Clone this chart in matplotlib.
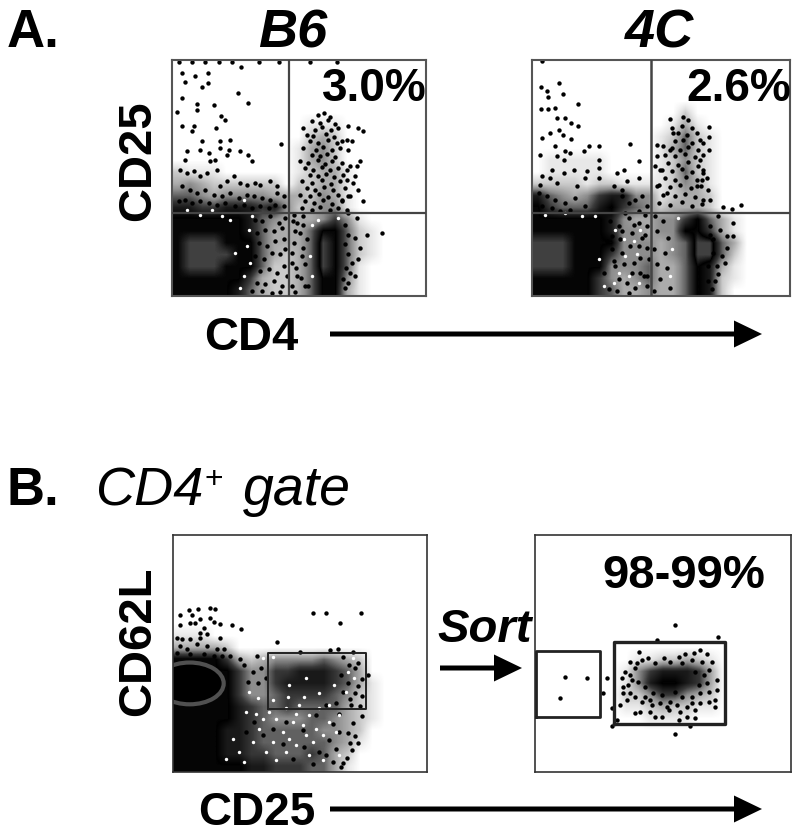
import matplotlib
matplotlib.use('Agg')
import matplotlib.pyplot as plt
import numpy as np
from matplotlib.colors import LinearSegmentedColormap
from matplotlib.patches import Ellipse

plt.rcParams['font.family'] = ['Liberation Sans', 'DejaVu Sans']

W, H = 800, 835

# density, top row first. 0 white .. 8 black, 9 = grey core
a1_grid = ["0", "0", "0", "0",
    "0", "00000000000111", "00000000000232", "00000000001342", "00000000001342",
    "211100000012331", "343222222022331", "554344443332431", "776677767423441",
    "8888887543334641", "88888875333588521", "89998885333598521", "89999885323598521",
    "8999888522359851", "8888886322358841", "8888875322358831"]
a2_grid = ["0", "0", "0", "0",
    "0000000000002", "00000000000131", "000000000012521", "000000000013521", "011111000012421",
    "011111000012521", "222212211112431", "754346774412332", "865557865423332",
    "88888874334468531", "88888874434488631", "99988884443459953", "99988864443459952",
    "99988844453358731", "88888643453358721", "8888865334335872"]
b1_grid = ["0", "0", "0", "0", "0", "0", "0", "0", "1110",
    "33332", "88886323444454320", "88888644667776530", "88888644677776531",
    "88888644566665421", "88888765565555321", "88888765444554321", "8888776555554432",
    "8888776555555431", "888877665556532", "88888877666553100"]
b2_grid = ["0", "0", "0", "0", "0", "0", "0", "0", "0", "0",
    "000000001122321", "000000014677763", "000000014788763", "000000022466432",
    "000000011232211", "000000000111100", "0", "0", "0", "0"]

a1_x = [30, 40, 70, 107, 107, 90, 197, 207, 30, 75, 125, 227, 15, 75, 147, 160, 30, 65, 133, 60, 90, 145, 175, 328,
    85, 45, 145, 170, 203, 227, 110, 165, 130, 115, 40, 240, 25, 45, 65, 85, 105, 135, 165, 185, 145, 205, 225, 250,
    265, 295, 315, 30, 55, 75, 100, 125, 150, 175, 200, 225, 245, 270, 295, 315, 335, 20, 40, 60, 85, 110, 135, 160,
    190, 215, 240, 265, 290, 310, 335, 250, 270, 295, 320, 340, 255, 280, 305, 330, 260, 285, 310, 335, 250, 275, 300,
    325, 340, 265, 290, 315, 335, 255, 280, 305, 330, 345, 240, 270, 300, 325, 360, 375, 390, 365, 385, 400, 360, 375,
    395, 365, 560, 530, 575, 525, 540, 530, 555, 565, 535, 560, 575, 525, 545, 510, 535, 550, 530, 555, 585, 630, 550,
    565, 560, 540, 535, 550, 530, 520, 20, 60, 100, 140, 180, 260, 320, 415, 495]
a1_y = [670, 645, 662, 670, 640, 628, 610, 690, 595, 578, 574, 580, 555, 560, 542, 530, 512, 512, 505, 495, 465, 465,
    470, 457, 440, 435, 445, 440, 435, 425, 430, 425, 408, 405, 410, 405, 380, 370, 375, 360, 370, 380, 345, 360, 330,
    340, 335, 340, 335, 345, 330, 330, 320, 310, 320, 305, 300, 310, 295, 305, 300, 295, 290, 310, 300, 285, 290, 280,
    285, 280, 275, 280, 270, 275, 265, 270, 265, 275, 270, 230, 225, 240, 220, 235, 190, 200, 195, 205, 160, 150, 165,
    170, 120, 110, 130, 125, 140, 75, 80, 70, 90, 40, 35, 45, 30, 60, 15, 15, 10, 12, 100, 60, 120, 160, 190, 30, 30,
    220, 240, 245, 505, 510, 495, 470, 465, 440, 390, 405, 390, 320, 285, 350, 340, 290, 300, 360, 250, 235, 185, 190,
    175, 145, 110, 100, 70, 60, 40, 25, 705, 705, 705, 705, 705, 705, 705, 705, 705]
# CD25+ CD4+ column and the fringe round the two lower clouds
a1_more = [(440, 545), (458, 552), (475, 540), (420, 525), (445, 520), (470, 528), (490, 518), (395, 505), (430, 500),
    (452, 508), (478, 498), (500, 505), (405, 485), (425, 480), (462, 488), (488, 478), (415, 465), (440, 460),
    (470, 468), (495, 460), (512, 465), (395, 445), (432, 440), (455, 448), (480, 438), (505, 445), (420, 425),
    (445, 420), (465, 428), (490, 418), (385, 405), (410, 400), (438, 408), (460, 398), (482, 405), (510, 400),
    (400, 385), (425, 380), (450, 388), (475, 378), (498, 385), (525, 380), (415, 365), (440, 360), (462, 368),
    (488, 358), (515, 365), (390, 345), (420, 340), (450, 348), (478, 338), (505, 345), (405, 325), (430, 320),
    (458, 328), (485, 318), (520, 325), (385, 305), (415, 300), (442, 308), (470, 298), (498, 305), (530, 300),
    (400, 285), (428, 280), (455, 288), (482, 278), (510, 285), (390, 265), (420, 260), (445, 268), (475, 258),
    (500, 265), (525, 260), (362, 225), (395, 215), (370, 195), (405, 170), (360, 130), (395, 145), (372, 85),
    (400, 95), (388, 55), (410, 30), (370, 12), (520, 215), (528, 185), (520, 155), (530, 125), (522, 85), (515, 50)]
a1_white = [(215, 290), (240, 240), (230, 200), (225, 150), (235, 100), (215, 60), (205, 25), (190, 130), (175, 230),
    (150, 240), (120, 260), (85, 245), (45, 260), (440, 230), (420, 215), (415, 120), (420, 60), (500, 235)]

a2_x = [30, 80, 27, 47, 92, 45, 138, 27, 47, 70, 75, 100, 117, 138, 80, 93, 55, 30, 117, 70, 100, 115, 155, 170, 200,
    295, 25, 75, 200, 320, 95, 60, 125, 165, 200, 275, 255, 95, 30, 55, 160, 200, 320, 285, 245, 270, 25, 135, 75, 20,
    45, 70, 100, 130, 160, 30, 60, 85, 115, 270, 290, 310, 330, 345, 280, 320, 340, 235, 260, 290, 320, 345, 240, 265,
    300, 330, 240, 270, 295, 325, 345, 250, 275, 305, 325, 335, 345, 260, 285, 310, 230, 255, 290, 575, 600, 627, 605,
    585, 605, 585, 570, 580, 555, 560, 550, 540, 545, 535, 565, 560, 533, 533, 415, 420, 425, 515, 533, 375, 395, 375,
    370, 390, 415, 505, 515, 530, 515, 375, 405, 495, 510, 535]
a2_y = [707, 642, 628, 600, 608, 618, 578, 564, 564, 567, 535, 535, 520, 512, 500, 485, 490, 475, 472, 450, 435, 430,
    435, 452, 450, 458, 425, 420, 410, 405, 410, 380, 380, 375, 385, 380, 370, 370, 360, 355, 355, 355, 355, 345, 330,
    320, 335, 330, 340, 310, 300, 290, 280, 295, 270, 270, 265, 255, 260, 300, 280, 290, 300, 270, 250, 255, 245, 225,
    210, 235, 220, 210, 180, 170, 190, 175, 140, 130, 150, 115, 145, 90, 95, 100, 70, 60, 30, 50, 40, 25, 20, 15, 10,
    268, 263, 273, 220, 182, 182, 145, 120, 100, 90, 65, 45, 20, 170, 210, 200, 240, 507, 478, 533, 505, 490, 460, 440,
    455, 450, 420, 390, 380, 440, 410, 370, 320, 290, 330, 310, 330, 350, 290]
a2_more = [(455, 540), (470, 530), (450, 510), (480, 505), (440, 490), (465, 485), (495, 490), (430, 465), (455, 470),
    (480, 460), (505, 470), (420, 445), (445, 440), (470, 448), (500, 440), (400, 425), (430, 420), (460, 428),
    (490, 418), (515, 425), (410, 400), (440, 395), (470, 402), (500, 392), (385, 380), (420, 375), (450, 382),
    (480, 372), (515, 380), (400, 355), (430, 350), (462, 358), (495, 348), (525, 355), (380, 335), (415, 328),
    (445, 335), (478, 325), (508, 332), (395, 305), (430, 300), (460, 308), (490, 298), (380, 280), (415, 275),
    (450, 282), (480, 272), (510, 278), (370, 240), (395, 225), (375, 195), (410, 175), (365, 140), (400, 130),
    (375, 95), (405, 85), (385, 50), (415, 25), (365, 15), (535, 185), (545, 130), (530, 90), (530, 45), (225, 165),
    (245, 105), (215, 70), (340, 185), (350, 110), (345, 60), (300, 70), (270, 195), (305, 215), (320, 150)]
a2_white = [(250, 200), (275, 170), (305, 165), (325, 200), (280, 120), (315, 125), (260, 70), (290, 60), (320, 40),
    (245, 40), (215, 30), (200, 110), (190, 240), (150, 240), (100, 250), (40, 245), (440, 235), (420, 140), (415, 60)]

b1_x = [110, 127, 75, 47, 22, 57, 82, 112, 122, 22, 52, 67, 142, 177, 204, 92, 312, 420, 459, 502, 565, 82, 102, 12,
    27, 52, 82, 142, 22, 42, 72, 102, 132, 152, 172, 12, 52, 92, 122, 147, 382, 472, 497, 542, 252, 202, 587, 557, 547,
    567, 557, 547, 567, 532, 562, 567, 542, 527, 547, 532, 557, 537, 522, 512]
b1_y = [492, 487, 487, 485, 470, 469, 457, 462, 449, 440, 447, 447, 444, 440, 427, 432, 390, 475, 477, 445, 477, 417,
    412, 402, 397, 397, 402, 402, 377, 367, 382, 377, 367, 367, 347, 357, 352, 352, 347, 347, 360, 365, 367, 360, 347,
    337, 289, 327, 312, 277, 257, 237, 227, 217, 197, 167, 147, 117, 107, 87, 87, 67, 42, 27]
b1_more = [(215, 320), (240, 300), (265, 310), (225, 270), (255, 265), (280, 280), (510, 345), (530, 320), (505, 290),
    (525, 265), (510, 240), (535, 200), (500, 175), (480, 145), (500, 120), (470, 95), (490, 70), (460, 50), (480, 30),
    (505, 15), (440, 60), (420, 25), (395, 75), (360, 40), (330, 85), (300, 130), (270, 110), (340, 150), (390, 125),
    (430, 170), (460, 200), (490, 205), (245, 150), (220, 120)]
b1_white = [(290, 180), (310, 160), (340, 190), (330, 120), (360, 150), (390, 140), (410, 170), (430, 130), (450, 110),
    (220, 180), (250, 175), (270, 160), (350, 100), (420, 90), (470, 150), (340, 60), (380, 200), (400, 110),
    (440, 190), (300, 90), (370, 175), (470, 200), (500, 170), (490, 120), (520, 240), (240, 90), (260, 130), (280, 60),
    (310, 35), (370, 80), (410, 50), (450, 35), (500, 50), (200, 60), (215, 30), (180, 100), (160, 40), (230, 240),
    (255, 220), (300, 215), (345, 225), (395, 225), (440, 235), (485, 260), (525, 300), (400, 280), (350, 260),
    (540, 340), (545, 280), (270, 340), (300, 345)]

b2_x = [420, 365, 547, 420, 465, 230, 90, 155, 75, 215, 205, 230, 313, 285, 305, 340, 385, 430, 450, 475, 493, 515,
    530, 520, 545, 515, 545, 540, 520, 495, 540, 480, 480, 455, 430, 435, 400, 380, 360, 345, 315, 300, 255, 245, 265,
    285, 300, 320, 265, 280, 350, 375, 405, 455, 495, 520, 285, 270]
b2_y = [440, 395, 402, 113, 137, 138, 283, 280, 220, 280, 235, 190, 357, 330, 325, 340, 340, 345, 352, 355, 363, 353,
    330, 305, 275, 265, 245, 215, 210, 205, 195, 185, 160, 165, 155, 180, 185, 165, 165, 180, 180, 175, 200, 155, 235,
    235, 225, 210, 255, 260, 200, 205, 210, 195, 235, 240, 290, 300]
b2_more = [(300, 310), (320, 335), (360, 325), (405, 330), (440, 325), (470, 335), (500, 330), (290, 275), (310, 270),
    (330, 255), (355, 235), (380, 230), (420, 240), (440, 225), (470, 225), (490, 260), (505, 290), (480, 300),
    (330, 225), (345, 215), (395, 195), (425, 200), (470, 205), (275, 215), (260, 280)]

# grey ring and black middle of the main CD62L/CD25 cloud
b1_core_x = 50
b1_core_y = 265
b1_core_w = 205
b1_core_h = 125

cmap = LinearSegmentedColormap.from_list('dens', [(0, '#ffffff'), (0.12, '#e6e6e6'), (0.45, '#8c8c8c'),
                                                  (0.66, '#383838'), (0.88, '#000000'), (1, '#404040')])


def to_cells(rows):
    n = 21
    return np.array([[int(c) for c in r.ljust(n, '0')] for r in rows])


def panel(box, size, grid, xs, ys, more, white, frame='#555555', frame_w=1.5):
    l, t, r, b = box
    ax = fig.add_axes([l / W, 1 - b / H, (r - l) / W, (b - t) / H])
    ax.set_xlim(0, size[0])
    ax.set_ylim(0, size[1])
    ax.imshow(to_cells(grid), cmap=cmap, vmin=0, vmax=9, extent=[0, size[0], 0, size[1]], aspect='auto',
              interpolation='bilinear', zorder=1)
    ax.scatter(xs, ys, s=10, c='black', linewidths=0, zorder=2)
    if more:
        ax.scatter([p[0] for p in more], [p[1] for p in more], s=10, c='black', linewidths=0, zorder=2)
    if white:
        ax.scatter([p[0] for p in white], [p[1] for p in white], s=6, c='white', linewidths=0, zorder=2)
    ax.set_xticks([])
    ax.set_yticks([])
    for s in ax.spines.values():
        s.set_color(frame)
        s.set_linewidth(frame_w)
    return ax


fig = plt.figure(figsize=(W / 100, H / 100), dpi=100)

ax1 = panel((172, 60, 426, 296), (763, 710), a1_grid, a1_x, a1_y, a1_more, a1_white)
ax1.axvline(350, color='#444444', lw=1.6, zorder=3)
ax1.axhline(250, color='#444444', lw=1.6, zorder=3)

ax2 = panel((532, 60, 790, 296), (775, 710), a2_grid, a2_x, a2_y, a2_more, a2_white)
ax2.axvline(357, color='#444444', lw=1.8, zorder=3)
ax2.axhline(250, color='#444444', lw=1.6, zorder=3)

ax3 = panel((173, 535, 427, 772), (764, 709), b1_grid, b1_x, b1_y, b1_more, b1_white, frame='#333333', frame_w=1.2)
ax3.add_patch(Ellipse((b1_core_x, b1_core_y), b1_core_w, b1_core_h, facecolor='black', edgecolor='#505050', lw=3,
                      zorder=2))
ax3.plot([285, 580, 580, 285, 285], [187, 187, 357, 357, 187], color='#222222', lw=1.4, zorder=3)

ax4 = panel((535, 535, 791, 772), (767, 708), b2_grid, b2_x, b2_y, b2_more, None, frame='#333333', frame_w=1.2)
ax4.plot([3, 195, 195, 3, 3], [165, 165, 360, 360, 165], color='#222222', lw=2, zorder=3)
ax4.plot([237, 570, 570, 237, 237], [143, 143, 387, 387, 143], color='#222222', lw=2.4, zorder=3)

# overlay in figure pixels for the labels and arrows
ov = fig.add_axes([0, 0, 1, 1], zorder=10)
ov.set_xlim(0, W)
ov.set_ylim(H, 0)
ov.axis('off')
ov.patch.set_alpha(0)


def label(x, y, s, size=33, **kw):
    kw.setdefault('weight', 'bold')
    ov.text(x, y, s, fontsize=size, va='baseline', ha=kw.pop('ha', 'left'), color='black', **kw)


label(7, 47, 'A.', 38)
label(293, 47, 'B6', 39, style='italic', ha='center')
label(660, 47, '4C', 39, style='italic', ha='center')
label(322, 101, '3.0%')
label(686, 101, '2.6%')
ov.text(138, 161, 'CD25', fontsize=34, weight='bold', rotation=90, ha='center', va='center')
label(204, 350, 'CD4', 34)
label(7, 505, 'B.', 38)
label(95, 505, 'CD4', 39, weight='normal', style='italic')
label(204, 488, '+', 23, weight='normal')
label(243, 505, 'gate', 40, weight='normal', style='italic')
ov.text(138, 641, 'CD62L', fontsize=34, weight='bold', rotation=90, ha='center', va='center')
label(198, 825, 'CD25', 33)
label(437, 642, 'Sort', 34, style='italic')
label(602, 588, '98-99%', 34)

for x0, x1, y in [(330, 762, 334), (330, 762, 809), (440, 522, 668)]:
    ov.arrow(x0, y, x1 - x0, 0, width=5, head_width=27, head_length=28, length_includes_head=True,
             color='black', linewidth=0)

fig.savefig('out.png', dpi=100, facecolor='white')
